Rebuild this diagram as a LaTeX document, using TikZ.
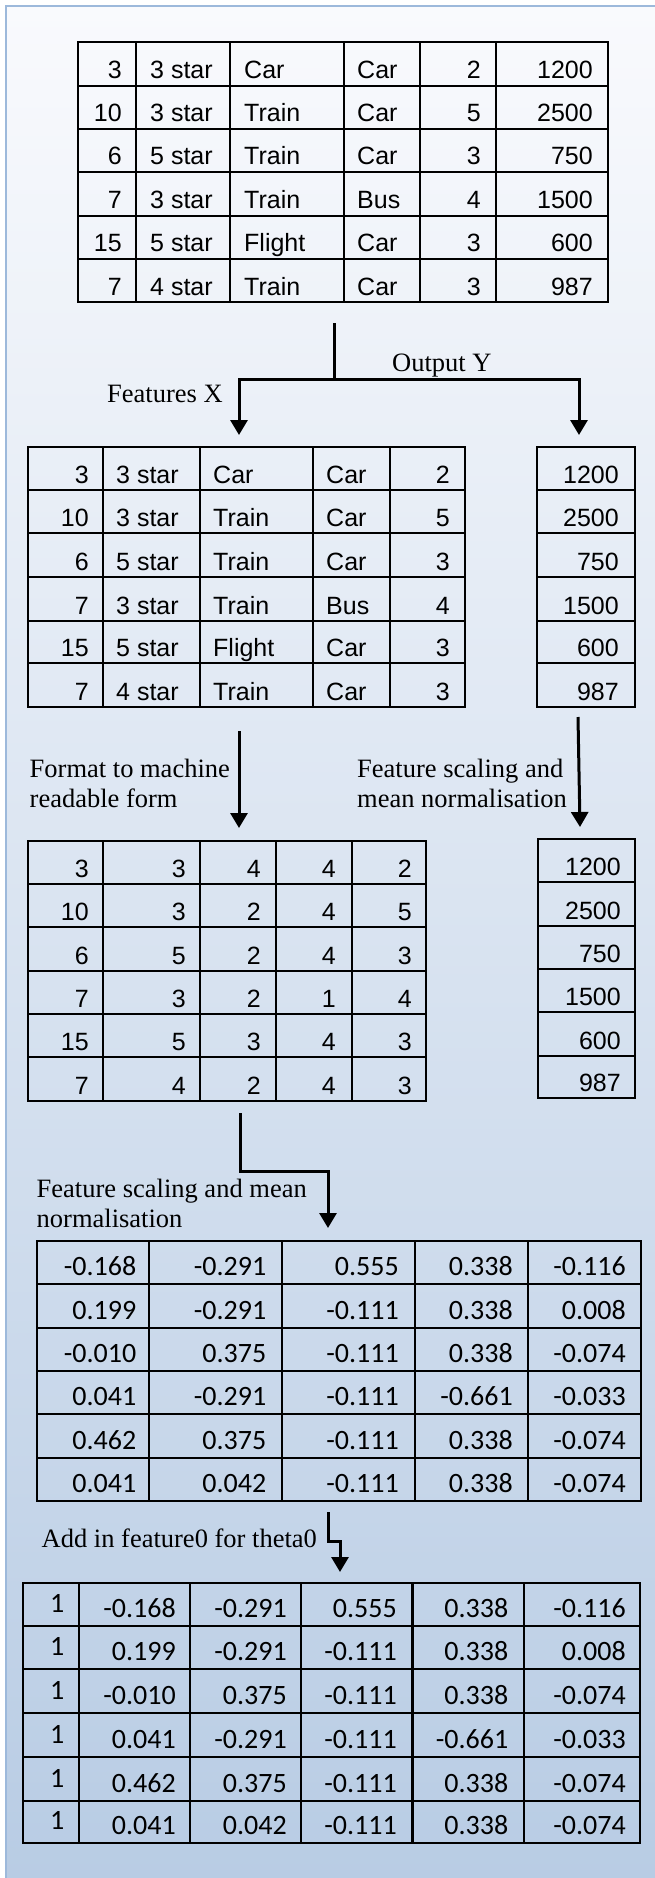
\documentclass[tikz,border=0pt]{standalone}
\usepackage{fontspec}
\setmainfont{Liberation Serif}
\newfontfamily\arialf{Liberation Sans}
\newfontfamily\calf{Carlito}
\usetikzlibrary{arrows.meta}
\definecolor{bgtop}{HTML}{F9FAFD}
\definecolor{bgbot}{HTML}{B8CCE4}
\definecolor{framec}{HTML}{9DB9DB}
\begin{document}
\begin{tikzpicture}[x=1pt,y=-1pt,
  grid/.style={draw=black,line width=2.4pt},
  conn/.style={draw=black,line width=3pt},
  arr/.style={draw=black,line width=3pt,-{Triangle[width=17pt,length=15pt]}},
  ar/.style={inner sep=0pt,font=\arialf\fontsize{25}{30}\selectfont},
  cb/.style={inner sep=0pt,font=\calf\fontsize{28}{32}\selectfont},
  lbl/.style={inner sep=0pt,anchor=base west,font=\fontsize{26.5}{30}\selectfont},
  re/.style={anchor=base east},
  le/.style={anchor=base west}]
\useasboundingbox (0,0) rectangle (654,1878);
% background panel
\shade[top color=bgtop,bottom color=bgbot] (6,6) rectangle (660,1884);
\draw[framec,line width=2.2pt] (6,1890) -- (6,6) -- (700,6);

% ---------- table 1 : raw data ----------
\draw[grid] (78,42) rectangle (608,302);
\foreach \x in {136,230,344,420,496} \draw[grid] (\x,42) -- (\x,302);
\foreach \y in {86,129,172,216,259} \draw[grid] (78,\y) -- (608,\y);
\foreach \b/\ca/\cbb/\cc/\cd/\ce/\cf [count=\i] in
 {79/3/3 star/Car/Car/2/1200, 122/10/3 star/Train/Car/5/2500, 165/6/5 star/Train/Car/3/750,
  209/7/3 star/Train/Bus/4/1500, 252/15/5 star/Flight/Car/3/600, 295/7/4 star/Train/Car/3/987}{
  \node[ar,re] (ta-\i-1) at (122,\b) {\ca};
  \node[ar,le] (ta-\i-2) at (150,\b) {\cbb};
  \node[ar,le] (ta-\i-3) at (244,\b) {\cc};
  \node[ar,le] (ta-\i-4) at (357,\b) {\cd};
  \node[ar,re] (ta-\i-5) at (481,\b) {\ce};
  \node[ar,re] (ta-\i-6) at (593,\b) {\cf};
}

% ---------- connector 1 ----------
\coordinate (c1top) at (334,323);
\coordinate (c1mid) at (334,379);
\coordinate (xin) at (239,435);
\coordinate (yin) at (579,435);
\draw[conn] (c1top) -- (c1mid);
\draw[arr] (c1mid) -| (xin);
\draw[arr] (c1mid) -| (yin);
\node[lbl] (outY) at (392,371) {Output Y};
\node[lbl] (featX) at (107,402) {Features X};

% ---------- table 2 : features X ----------
\draw[grid] (28,447) rectangle (465,707);
\foreach \x in {103,200,313,390} \draw[grid] (\x,447) -- (\x,707);
\foreach \y in {490,533,577,621,663} \draw[grid] (28,\y) -- (465,\y);
\foreach \b/\ca/\cbb/\cc/\cd/\ce [count=\i] in
 {483/3/3 star/Car/Car/2, 526/10/3 star/Train/Car/5, 570/6/5 star/Train/Car/3,
  614/7/3 star/Train/Bus/4, 656/15/5 star/Flight/Car/3, 700/7/4 star/Train/Car/3}{
  \node[ar,re] (tb-\i-1) at (89,\b) {\ca};
  \node[ar,le] (tb-\i-2) at (116,\b) {\cbb};
  \node[ar,le] (tb-\i-3) at (213,\b) {\cc};
  \node[ar,le] (tb-\i-4) at (326,\b) {\cd};
  \node[ar,re] (tb-\i-5) at (450,\b) {\ce};
}
% ---------- table Y ----------
\draw[grid] (537,447) rectangle (635,707);
\foreach \y in {490,533,577,621,663} \draw[grid] (537,\y) -- (635,\y);
\foreach \b/\ca [count=\i] in {483/1200,526/2500,570/750,614/1500,656/600,700/987}{
  \node[ar,re] (ty-\i) at (619,\b) {\ca};
}

% ---------- connector 2 ----------
\coordinate (c2a) at (239,731);
\coordinate (c2b) at (239,828);
\coordinate (c2c) at (578,717);
\coordinate (c2d) at (580,827);
\draw[arr] (c2a) -- (c2b);
\draw[arr] (c2c) -- (c2d);
\node[lbl] (fmt1) at (29.5,777) {Format to machine};
\node[lbl] (fmt2) at (29.5,807) {readable form};
\node[lbl] (fsy1) at (357,777) {Feature scaling and};
\node[lbl] (fsy2) at (357,807) {mean normalisation};

% ---------- table 3 : machine readable ----------
\draw[grid] (28,841) rectangle (426,1101);
\foreach \x in {103,200,276,352} \draw[grid] (\x,841) -- (\x,1101);
\foreach \y in {884,927,971,1014,1057} \draw[grid] (28,\y) -- (426,\y);
\foreach \b/\ca/\cbb/\cc/\cd/\ce [count=\i] in
 {877/3/3/4/4/2, 920/10/3/2/4/5, 964/6/5/2/4/3,
  1007/7/3/2/1/4, 1050/15/5/3/4/3, 1094/7/4/2/4/3}{
  \node[ar,re] (tc-\i-1) at (89,\b) {\ca};
  \node[ar,re] (tc-\i-2) at (186,\b) {\cbb};
  \node[ar,re] (tc-\i-3) at (261,\b) {\cc};
  \node[ar,re] (tc-\i-4) at (336,\b) {\cd};
  \node[ar,re] (tc-\i-5) at (412,\b) {\ce};
}
% ---------- table Y2 ----------
\draw[grid] (538,839) rectangle (635,1098);
\foreach \y in {882,926,969,1012,1056} \draw[grid] (538,\y) -- (635,\y);
\foreach \b/\ca [count=\i] in {875/1200,919/2500,962/750,1005/1500,1049/600,1091/987}{
  \node[ar,re] (tz-\i) at (621,\b) {\ca};
}

% ---------- connector 3 ----------
\coordinate (c3a) at (240,1113);
\coordinate (c3b) at (240,1171);
\coordinate (c3c) at (328,1228);
\draw[arr] (c3a) -- (c3b) -| (c3c);
\node[lbl] (fsx1) at (36.5,1197) {Feature scaling and mean};
\node[lbl] (fsx2) at (36.5,1227) {normalisation};

% ---------- table 4 : normalised ----------
\draw[grid] (37,1241) rectangle (641,1501);
\foreach \x in {149,282,415,528} \draw[grid] (\x,1241) -- (\x,1501);
\foreach \y in {1284,1328,1371,1414,1458} \draw[grid] (37,\y) -- (641,\y);
\foreach \b/\ca/\cbb/\cc/\cd/\ce [count=\i] in
 {1275/-0.168/-0.291/0.555/0.338/-0.116, 1319/0.199/-0.291/-0.111/0.338/0.008,
  1362/-0.010/0.375/-0.111/0.338/-0.074, 1405/0.041/-0.291/-0.111/-0.661/-0.033,
  1449/0.462/0.375/-0.111/0.338/-0.074, 1492/0.041/0.042/-0.111/0.338/-0.074}{
  \node[cb,re] (td-\i-1) at (136.5,\b) {\ca};
  \node[cb,re] (td-\i-2) at (266.5,\b) {\cbb};
  \node[cb,re] (td-\i-3) at (399,\b) {\cc};
  \node[cb,re] (td-\i-4) at (513,\b) {\cd};
  \node[cb,re] (td-\i-5) at (626,\b) {\ce};
}

% ---------- connector 4 ----------
\coordinate (c4a) at (328,1512);
\coordinate (c4b) at (328,1541);
\coordinate (c4c) at (340,1572);
\draw[arr] (c4a) -- (c4b) -| (c4c);
\node[lbl] (addf) at (41.5,1547) {Add in feature0 for theta0};

% ---------- table 5 : with feature0 ----------
\draw[grid] (23,1583) rectangle (640,1843);
\foreach \x in {79,190,301,412.5,524} \draw[grid] (\x,1583) -- (\x,1843);
\foreach \y in {1626,1669,1713,1757,1801} \draw[grid] (23,\y) -- (640,\y);
\foreach \b/\ca/\cbb/\cc/\cd/\ce [count=\i] in
 {1617/-0.168/-0.291/0.555/0.338/-0.116, 1660/0.199/-0.291/-0.111/0.338/0.008,
  1704/-0.010/0.375/-0.111/0.338/-0.074, 1748/0.041/-0.291/-0.111/-0.661/-0.033,
  1792/0.462/0.375/-0.111/0.338/-0.074, 1834/0.041/0.042/-0.111/0.338/-0.074}{
  \node[cb,re] (te-\i-0) at (64.5,\b-5) {1};
  \node[cb,re] (te-\i-1) at (176,\b) {\ca};
  \node[cb,re] (te-\i-2) at (287,\b) {\cbb};
  \node[cb,re] (te-\i-3) at (397,\b) {\cc};
  \node[cb,re] (te-\i-4) at (508.5,\b) {\cd};
  \node[cb,re] (te-\i-5) at (626,\b) {\ce};
}
\end{tikzpicture}
\end{document}
